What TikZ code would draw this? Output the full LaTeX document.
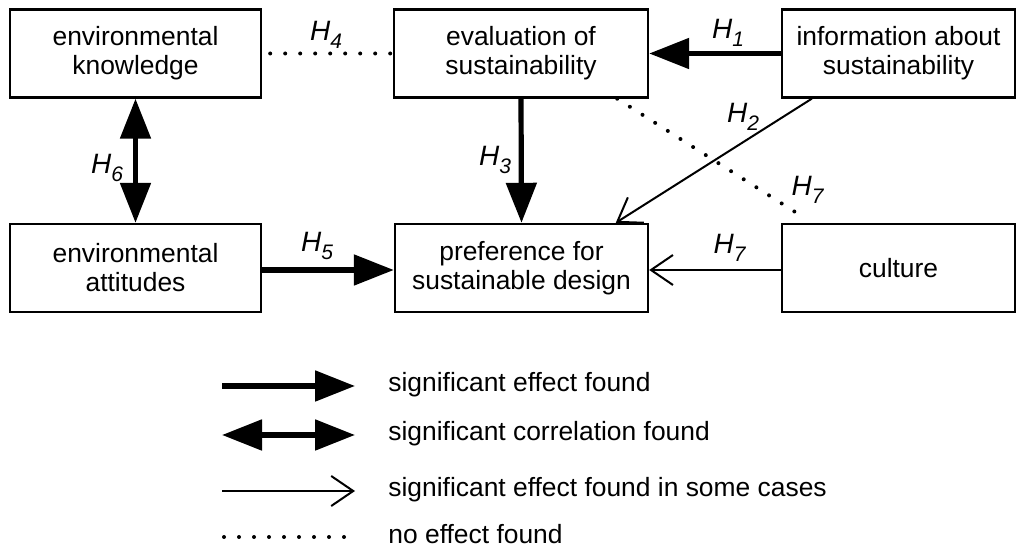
\documentclass[tikz,border=0pt]{standalone}
\usepackage{fontspec}
\setmainfont{Liberation Sans}
\usetikzlibrary{arrows.meta}

% hypothesis label: italic H with a lowered number
\newcommand{\hlab}[1]{\textit{H}\raisebox{-4pt}{\fontsize{10.5}{10.5}\selectfont\textit{#1}}}

\begin{document}
\begin{tikzpicture}[
        x=0.5pt, y=-0.5pt,
        box/.style={draw, line width=1.2pt, minimum height=44pt, align=center,
            font=\fontsize{13.2}{14.5}\selectfont, inner sep=2pt},
        lbl/.style={font=\fontsize{14}{14}\selectfont, inner sep=0pt},
        legtext/.style={anchor=west, inner sep=0pt, font=\fontsize{13.2}{14.5}\selectfont},
        effect/.style={-{Triangle[length=20pt,width=15pt]}, line width=2.6pt},
        correl/.style={{Triangle[length=20pt,width=15pt]}-{Triangle[length=20pt,width=15pt]}, line width=2.6pt},
        somecases/.style={-{Straight Barb[length=11pt,width=15pt,line width=1pt]}, line width=1pt},
        noeffect/.style={line width=2pt, line cap=round, dash pattern=on 0pt off 7.5pt},
    ]
    \useasboundingbox (0,0) rectangle (1018,550);

    % boxes
    \node[box, minimum width=125.5pt](know) at (135.5,53.5) {environmental\\knowledge};
    \node[box, minimum width=127pt](eval) at (521,53.5) {evaluation of\\sustainability};
    \node[box, minimum width=116.5pt](info) at (898.5,53.5) {information about\\sustainability};
    \node[box, minimum width=125.5pt](att) at (135.5,268) {environmental\\attitudes};
    \node[box, minimum width=126.5pt](pref) at (521.5,268) {preference for\\sustainable design};
    \node[box, minimum width=116.5pt](cult) at (898.5,268) {culture};

    % connectors
    \draw[noeffect] ([xshift=4pt]know.east) -- ([xshift=-1pt]eval.west);
    \draw[effect] (info.west) -- (eval.east);
    \draw[correl] (know.south) -- (att.north);
    \draw[effect] (eval.south) -- (pref.north);
    \draw[somecases] ([xshift=15.5pt]info.south west) -- ([xshift=111pt]pref.north west);
    \draw[noeffect] ([xshift=-16pt]eval.south east) -- ([xshift=12.5pt,yshift=2pt]cult.north west);
    \draw[effect] ([yshift=-1pt]att.east) -- ([yshift=-1pt]pref.west);
    \draw[somecases] ([yshift=-1pt]cult.west) -- ([yshift=-1pt]pref.east);

    % hypotheses
    \node[lbl](h1) at (728,33) {\hlab{1}};
    \node[lbl](h2) at (743,117) {\hlab{2}};
    \node[lbl](h3) at (495,160) {\hlab{3}};
    \node[lbl](h4) at (326,35) {\hlab{4}};
    \node[lbl](h5) at (317,246) {\hlab{5}};
    \node[lbl](h6) at (107,168) {\hlab{6}};
    \node[lbl](h7a) at (808,190) {\hlab{7}};
    \node[lbl](h7b) at (730,248) {\hlab{7}};

    % legend
    \coordinate (l1a) at (222,386); \coordinate (l1b) at (355,386);
    \coordinate (l2a) at (222,435); \coordinate (l2b) at (355,435);
    \coordinate (l3a) at (222,491); \coordinate (l3b) at (355,491);
    \coordinate (l4a) at (224,537); \coordinate (l4b) at (346,537);
    \draw[effect] (l1a) -- (l1b);
    \draw[correl] (l2a) -- (l2b);
    \draw[somecases] (l3a) -- (l3b);
    \draw[noeffect] (l4a) -- (l4b);
    \node[legtext](t1) at (388,385) {significant effect found};
    \node[legtext](t2) at (388,434) {significant correlation found};
    \node[legtext](t3) at (388,490) {significant effect found in some cases};
    \node[legtext](t4) at (388,534) {no effect found};
\end{tikzpicture}
\end{document}
